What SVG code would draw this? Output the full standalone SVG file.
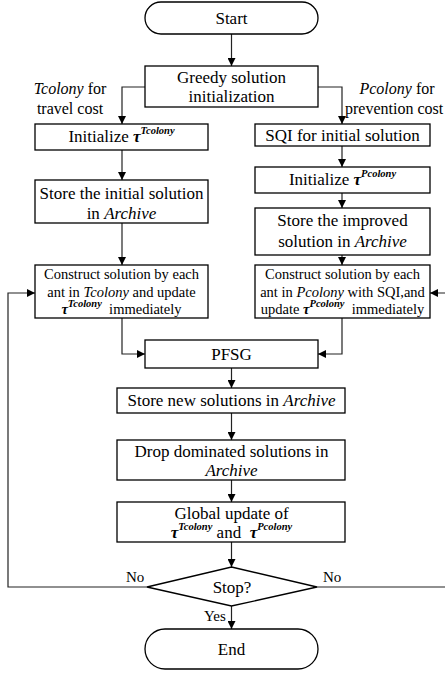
<svg xmlns="http://www.w3.org/2000/svg" width="445" height="673" viewBox="0 0 445 673">
  <style>
    .box { fill: #fff; stroke: #000; stroke-width: 1.3; }
    .line { fill: none; stroke: #222; stroke-width: 1.2; }
    text { font-family: "Liberation Serif", "Times New Roman", serif; fill: #000; }
    .t { font-size: 17px; text-anchor: middle; }
    .s { font-size: 14.5px; text-anchor: middle; }
    .lab { font-size: 16px; }
    .i { font-style: italic; }
    .tau { font-style: italic; font-weight: bold; }
    .sup { font-style: italic; font-weight: bold; font-size: 10.5px; }
  </style>
  <defs>
    <marker id="arr" viewBox="0 0 10 10" refX="10" refY="5" markerWidth="8" markerHeight="8" markerUnits="userSpaceOnUse" orient="auto">
      <path d="M0,0 L10,5 L0,10 z" fill="#000"/>
    </marker>
  </defs>

  <!-- connectors -->
  <g id="connectors" class="line" marker-end="url(#arr)">
    <path d="M231.5,34 V66"/>
    <path d="M145,87 H122 V124"/>
    <path d="M318,87 H342 V124"/>
    <path d="M122,150 V180"/>
    <path d="M342,146 V167"/>
    <path d="M342,193 V208"/>
    <path d="M122,223 V265"/>
    <path d="M342,255 V265"/>
    <path d="M122,318 V354 H145"/>
    <path d="M342,318 V354 H318"/>
    <path d="M231.5,368 V388"/>
    <path d="M231.5,413 V440"/>
    <path d="M231.5,480 V502"/>
    <path d="M231.5,542 V567"/>
    <path d="M231.5,606 V629"/>
    <path d="M147,587 H8 V293 H35"/>
    <path d="M317,587 H447 V293 H430"/>
  </g>

  <!-- edge labels -->
  <g id="labels">
    <text class="lab" x="70" y="94" text-anchor="middle"><tspan class="i">Tcolony</tspan> for</text>
    <text class="lab" x="70" y="114" text-anchor="middle">travel cost</text>
    <text class="lab" x="397" y="94" text-anchor="middle"><tspan class="i">Pcolony</tspan> for</text>
    <text class="lab" x="345" y="114">prevention cost</text>
    <text class="lab" x="126" y="582" style="font-size:15px">No</text>
    <text class="lab" x="323" y="582" style="font-size:15px">No</text>
    <text class="lab" x="204" y="621" style="font-size:15px">Yes</text>
  </g>

  <g id="start">
    <rect class="box" x="145" y="2" width="173" height="32" rx="16"/>
    <text class="t" x="231.5" y="24">Start</text>
  </g>

  <g id="greedy">
    <rect class="box" x="145" y="66" width="173" height="41"/>
    <text class="t" x="231.5" y="83">Greedy solution</text>
    <text class="t" x="231.5" y="102">initialization</text>
  </g>

  <g id="init-t">
    <rect class="box" x="35" y="124" width="173" height="26"/>
    <text class="t" x="121.5" y="142">Initialize <tspan class="tau">τ</tspan><tspan class="sup" dy="-8">Tcolony</tspan></text>
  </g>

  <g id="sqi">
    <rect class="box" x="255" y="124" width="175" height="22"/>
    <text class="t" x="342.5" y="141">SQI for initial solution</text>
  </g>

  <g id="store-initial">
    <rect class="box" x="35" y="180" width="173" height="43"/>
    <text class="t" x="121.5" y="199">Store the initial solution</text>
    <text class="t" x="121.5" y="219">in <tspan class="i">Archive</tspan></text>
  </g>

  <g id="init-p">
    <rect class="box" x="255" y="167" width="175" height="26"/>
    <text class="t" x="342.5" y="185">Initialize <tspan class="tau">τ</tspan><tspan class="sup" dy="-8">Pcolony</tspan></text>
  </g>

  <g id="store-improved">
    <rect class="box" x="255" y="208" width="175" height="47"/>
    <text class="t" x="342.5" y="226">Store the improved</text>
    <text class="t" x="342.5" y="247">solution in <tspan class="i">Archive</tspan></text>
  </g>

  <g id="construct-t">
    <rect class="box" x="35" y="265" width="173" height="53"/>
    <text class="s" x="121.5" y="279">Construct solution by each</text>
    <text class="s" x="121.5" y="297">ant in <tspan class="i">Tcolony</tspan> and  update</text>
    <text class="s" x="121.5" y="314" xml:space="preserve"><tspan class="tau">τ</tspan><tspan class="sup" dy="-7">Tcolony</tspan><tspan dy="7">  immediately</tspan></text>
  </g>

  <g id="construct-p">
    <rect class="box" x="255" y="265" width="175" height="53"/>
    <text class="s" x="342.5" y="279">Construct solution by each</text>
    <text class="s" x="342.5" y="297">ant in <tspan class="i">Pcolony</tspan> with SQI,and</text>
    <text class="s" x="342.5" y="314" xml:space="preserve">update <tspan class="tau">τ</tspan><tspan class="sup" dy="-7">Pcolony</tspan><tspan dy="7">  immediately</tspan></text>
  </g>

  <g id="pfsg">
    <rect class="box" x="145" y="340" width="173" height="28"/>
    <text class="t" x="231.5" y="360">PFSG</text>
  </g>

  <g id="store-new">
    <rect class="box" x="117" y="388" width="228" height="25"/>
    <text class="t" x="231.5" y="406">Store new solutions in <tspan class="i">Archive</tspan></text>
  </g>

  <g id="drop">
    <rect class="box" x="117" y="440" width="228" height="40"/>
    <text class="t" x="231.5" y="457">Drop dominated solutions in</text>
    <text class="t" x="231.5" y="476"><tspan class="i">Archive</tspan></text>
  </g>

  <g id="global">
    <rect class="box" x="117" y="502" width="228" height="40"/>
    <text class="t" x="231.5" y="519">Global update of</text>
    <text class="t" x="231.5" y="538" xml:space="preserve"><tspan class="tau">τ</tspan><tspan class="sup" dy="-8">Tcolony</tspan><tspan dy="8"> and  </tspan><tspan class="tau">τ</tspan><tspan class="sup" dy="-8">Pcolony</tspan></text>
  </g>

  <g id="stop">
    <polygon class="box" points="231.5,567 317,587 231.5,606 147,587"/>
    <text class="t" x="232" y="593">Stop?</text>
  </g>

  <g id="end">
    <rect class="box" x="145" y="629" width="173" height="40" rx="20"/>
    <text class="t" x="231.5" y="655">End</text>
  </g>
</svg>
